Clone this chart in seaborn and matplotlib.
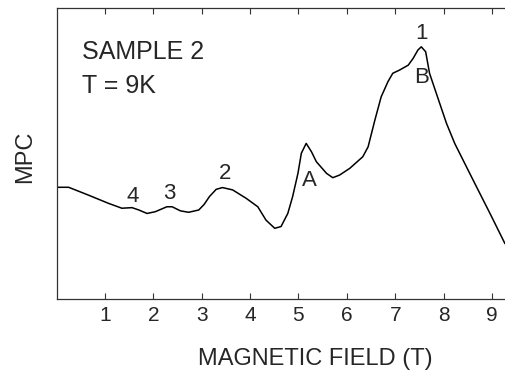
"""MPC vs magnetic field trace, sample 2 at 9 K."""
import matplotlib
matplotlib.use("Agg")
import matplotlib.pyplot as plt
import pandas as pd
import seaborn as sns

# Values (field in T, MPC in arbitrary units)
field = [0.00, 0.25, 0.66, 1.07, 1.35, 1.56, 1.70, 1.87, 2.04, 2.28, 2.39, 2.56,
         2.73, 2.94, 3.05, 3.16, 3.30, 3.43, 3.64, 3.92, 4.16, 4.33, 4.51, 4.64,
         4.78, 4.88, 4.99, 5.06, 5.16, 5.27, 5.37, 5.58, 5.71, 5.85, 6.06, 6.33,
         6.44, 6.58, 6.71, 6.85, 6.95, 7.09, 7.27, 7.37, 7.47, 7.54, 7.63, 7.71,
         7.85, 8.06, 8.23, 8.61, 8.96, 9.27]
mpc = [3.84, 3.84, 3.57, 3.29, 3.12, 3.14, 3.06, 2.94, 3.00, 3.17, 3.17, 3.03,
       2.98, 3.06, 3.25, 3.52, 3.77, 3.83, 3.75, 3.46, 3.17, 2.71, 2.43, 2.49,
       2.94, 3.52, 4.32, 5.01, 5.35, 5.06, 4.72, 4.32, 4.17, 4.26, 4.49, 4.89,
       5.23, 6.15, 6.95, 7.47, 7.76, 7.87, 8.04, 8.27, 8.56, 8.67, 8.50, 7.76,
       7.07, 6.04, 5.35, 4.09, 2.94, 1.90]

# Peak labels: text, x, y
peak_text = ["1", "B", "A", "2", "3", "4"]
peak_x = [7.55, 7.55, 5.23, 3.49, 2.33, 1.57]
peak_y = [9.14, 7.63, 4.09, 4.30, 3.64, 3.51]

xticks = [1, 2, 3, 4, 5, 6, 7, 8, 9]

df = pd.DataFrame({"field": field, "mpc": mpc})

sns.set_theme(style="ticks")
plt.rcParams["font.family"] = ["Liberation Sans", "DejaVu Sans"]

fig = plt.figure(figsize=(5.05, 3.7), dpi=100)
ax = fig.add_axes([0.112, 0.192, 0.888, 0.786])

sns.lineplot(data=df, x="field", y="mpc", ax=ax, color="black", linewidth=1.1)

ax.set_xlim(0, 9.27)
ax.set_ylim(0, 10)
ax.set_xticks(xticks)
ax.set_xticklabels([str(t) for t in xticks], fontsize=15)
ax.set_yticks([])
ax.tick_params(axis="x", direction="in", length=4, width=0.8, top=True,
               pad=5, color="#333333")
ax.set_xlabel("")
ax.set_ylabel("")

for side in ["left", "bottom", "top"]:
    ax.spines[side].set_linewidth(0.9)
    ax.spines[side].set_color("#333333")
ax.spines["right"].set_visible(False)

ax.text(0.53, 8.49, "SAMPLE 2", fontsize=18, va="center", ha="left")
ax.text(0.53, 7.32, "T = 9K", fontsize=18, va="center", ha="left")

for t, x, y in zip(peak_text, peak_x, peak_y):
    ax.text(x, y, t, fontsize=16, ha="center", va="center")

fig.text(0.624, 0.014, "MAGNETIC FIELD (T)", fontsize=17, ha="center",
         va="baseline")
fig.text(0.05, 0.576, "MPC", fontsize=17, rotation=90, ha="center", va="center")

fig.savefig("out.png", dpi=100)
